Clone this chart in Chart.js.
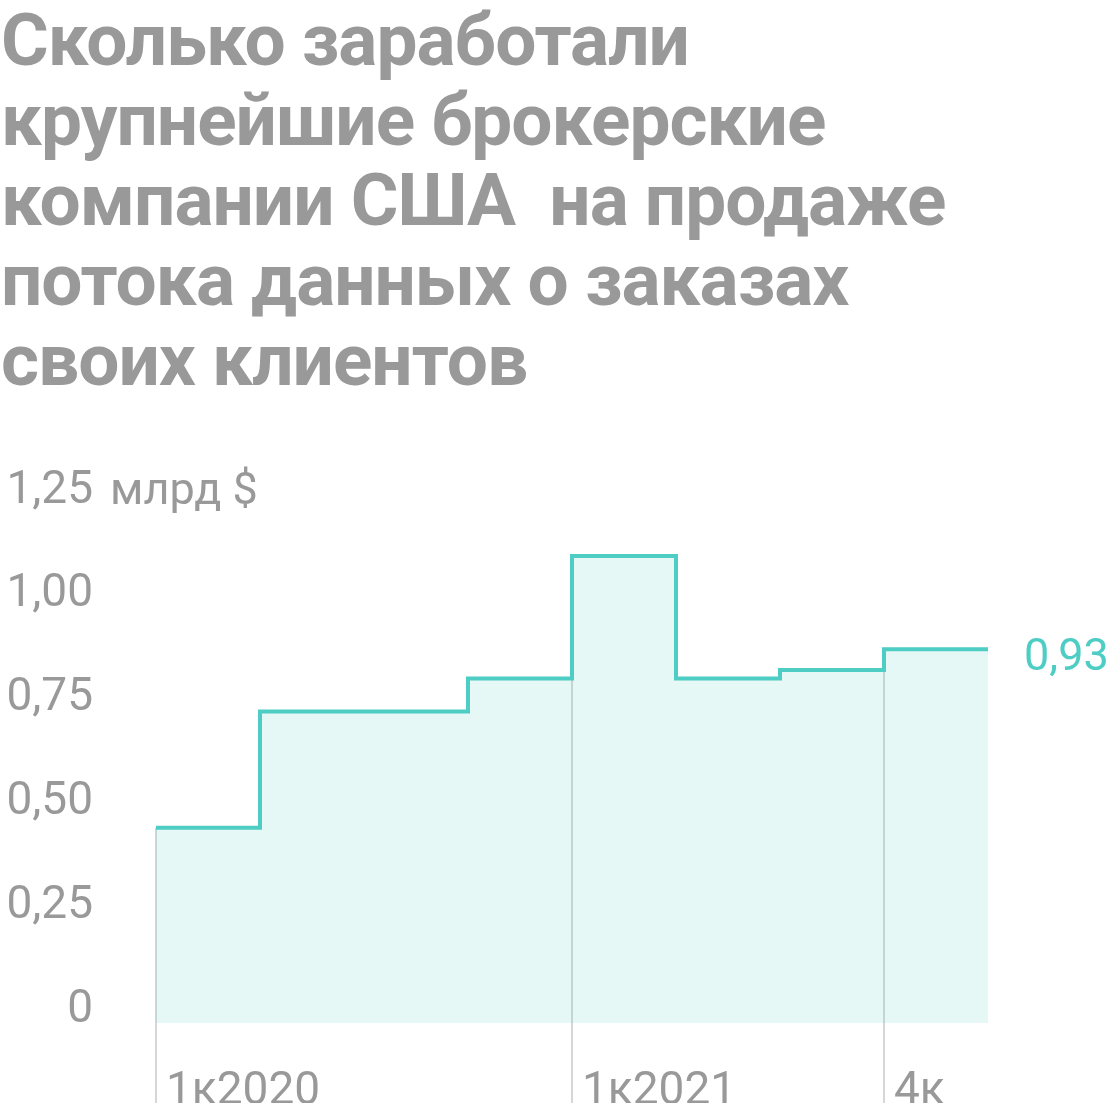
<!DOCTYPE html>
<html>
<head>
<meta charset="utf-8">
<script src="https://cdn.jsdelivr.net/npm/chart.js@4.4.1/dist/chart.umd.min.js"></script>
<style>
  html, body { margin: 0; padding: 0; background: #ffffff; }
  body { width: 1120px; height: 1120px; position: relative; overflow: hidden; }
  #title {
    position: absolute; left: 1px; top: 0px; margin: 0;
    font-family: "Roboto", "Liberation Sans", sans-serif; font-weight: 700;
    font-size: 73px; line-height: 80px; color: #999999; white-space: pre;
    letter-spacing: -1px;
  }
  #wrap { position: absolute; left: 0; top: 420px; width: 1120px; height: 683px; }
</style>
</head>
<body>
<h1 id="title"></h1>
<div id="wrap"><canvas id="c"></canvas></div>
<script>
// ---- data ----
const titleLines = [
  "Сколько заработали",
  "крупнейшие брокерские",
  "компании США  на продаже",
  "потока данных о заказах",
  "своих клиентов"
];
const quarters = ["1к2020", "2к2020", "3к2020", "4к2020", "1к2021", "2к2021", "3к2021", "4к2021"];
const values = [0.47, 0.75, 0.75, 0.83, 1.125, 0.83, 0.85, 0.90];
const xTickIndexes = [0, 4, 7];
const xTickLabels = ["1к2020", "1к2021", "4к"];
const yTickValues = [0, 0.25, 0.5, 0.75, 1.0, 1.25];
const yTickLabels = ["0", "0,25", "0,50", "0,75", "1,00", "1,25"];
const yUnit = "млрд $";
const lastLabel = "0,93";

document.getElementById('title').textContent = titleLines.join("\n");

const TEAL = "#4ecdc4";
const FILL = "rgba(78,205,196,0.15)";
const GRAY = "#999999";
const GRID = "#d6d6d6";
const FONT = "Roboto, 'Liberation Sans', sans-serif";

// step points: each quarter spans [i, i+1]
const stepPoints = values.map((v, i) => ({ x: i, y: v }));
stepPoints.push({ x: values.length, y: values[values.length - 1] });

const decorPlugin = {
  id: 'decor',
  beforeDatasetsDraw(chart) {
    const { ctx, scales: { x, y } } = chart;
    ctx.save();
    ctx.strokeStyle = GRID;
    ctx.lineWidth = 2;
    xTickIndexes.forEach(i => {
      const px = Math.round(x.getPixelForValue(i));
      ctx.beginPath();
      ctx.moveTo(px, y.getPixelForValue(values[i]));
      ctx.lineTo(px, chart.height);
      ctx.stroke();
    });
    ctx.restore();
  },
  afterDraw(chart) {
    const { ctx, scales: { x, y } } = chart;
    ctx.save();
    ctx.font = "45px " + FONT;
    ctx.textBaseline = 'alphabetic';
    ctx.textAlign = 'left';
    ctx.fillStyle = GRAY;
    ctx.fillText(yUnit, 110, y.getPixelForValue(yTickValues[yTickValues.length - 1]));
    ctx.fillStyle = TEAL;
    ctx.fillText(lastLabel, x.getPixelForValue(values.length) + 36, y.getPixelForValue(values[values.length - 1]) + 21);
    ctx.restore();
  }
};

new Chart(document.getElementById('c'), {
  type: 'line',
  data: {
    datasets: [{
      data: stepPoints,
      stepped: 'before',
      borderColor: TEAL,
      borderWidth: 4,
      backgroundColor: FILL,
      fill: 'origin',
      pointRadius: 0,
      pointHoverRadius: 0,
      borderJoinStyle: 'miter',
      borderCapStyle: 'butt'
    }]
  },
  options: {
    responsive: true,
    maintainAspectRatio: false,
    animation: false,
    events: [],
    layout: { padding: { top: 84, right: 132, left: 0, bottom: 0 } },
    plugins: { legend: { display: false }, tooltip: { enabled: false } },
    scales: {
      x: {
        type: 'linear', min: 0, max: values.length,
        grid: { display: false, drawTicks: false },
        border: { display: false },
        afterBuildTicks(scale) { scale.ticks = xTickIndexes.map(v => ({ value: v })); },
        afterFit(scale) {
          scale.height = 80;
          scale.paddingLeft = 0; scale.paddingRight = 0;
          scale.paddingTop = 0; scale.paddingBottom = 0;
        },
        ticks: {
          autoSkip: false, maxRotation: 0,
          align: 'start', labelOffset: 10, padding: 42,
          color: GRAY, font: { family: FONT, size: 46 },
          callback(v) { const k = xTickIndexes.indexOf(v); return k >= 0 ? xTickLabels[k] : ''; }
        }
      },
      y: {
        min: 0, max: 1.25,
        grid: { display: false, drawTicks: false },
        border: { display: false },
        afterBuildTicks(scale) { scale.ticks = yTickValues.map(v => ({ value: v })); },
        afterFit(scale) {
          scale.width = 156;
          scale.paddingTop = 0; scale.paddingBottom = 0;
          scale.paddingLeft = 0; scale.paddingRight = 0;
        },
        ticks: {
          padding: 63, labelOffset: -13,
          color: GRAY, font: { family: FONT, size: 46 },
          callback(v) { const k = yTickValues.indexOf(v); return k >= 0 ? yTickLabels[k] : ''; }
        }
      }
    }
  },
  plugins: [decorPlugin]
});
</script>
</body>
</html>
